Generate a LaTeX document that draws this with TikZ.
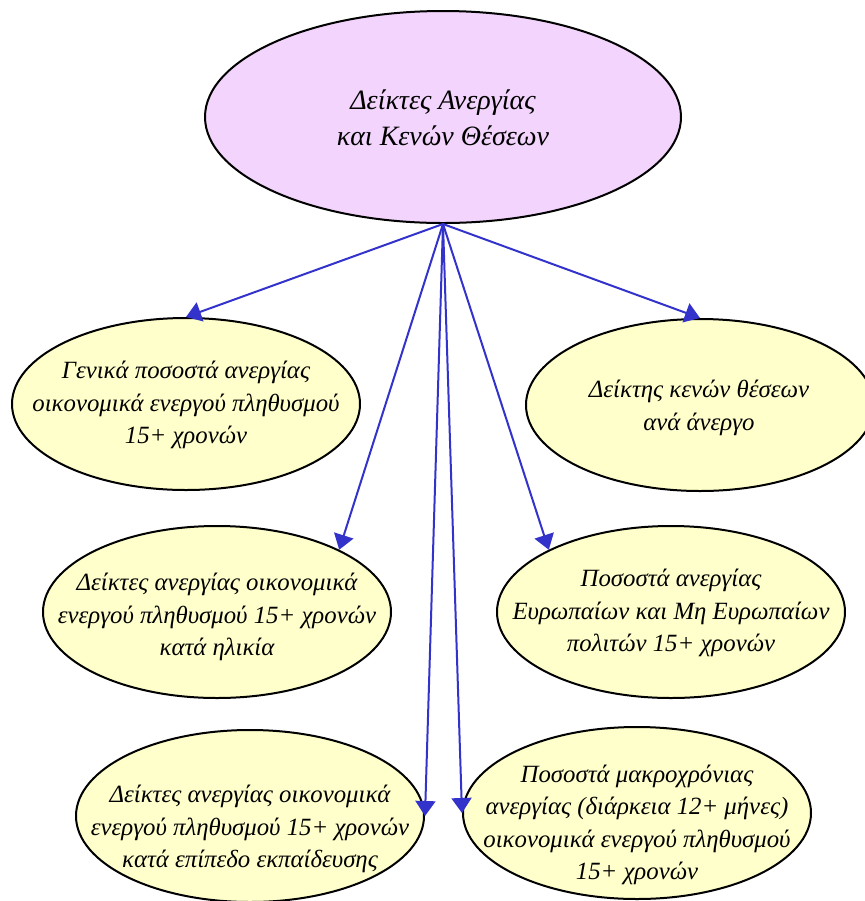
\documentclass[tikz,border=0pt]{standalone}
\usepackage{fontspec}
\setmainfont{Liberation Serif}
\usetikzlibrary{shapes.geometric,arrows.meta}
\definecolor{rootfill}{RGB}{243,212,252}
\definecolor{leaffill}{RGB}{255,255,204}
\definecolor{linkblue}{RGB}{51,51,204}

\begin{document}
\begin{tikzpicture}[x=0.5pt, y=-0.5pt, font=\fontsize{12.4}{16.2}\selectfont\itshape, line join=round,
	root/.style={ellipse, draw, line width=1pt, fill=rootfill, minimum width=238pt, minimum height=106pt, inner sep=0pt},
	leaf/.style={ellipse, draw, line width=1pt, fill=leaffill, minimum width=174pt, minimum height=86pt, inner sep=0pt},
	txt/.style={align=center, inner sep=0pt},
	link/.style={draw=linkblue, line width=1pt, -{Triangle[length=7.5pt,width=10pt]}}]
	\useasboundingbox (0,0) rectangle (865,901);
	% ellipses
	\node[root] (root) at (443,117) {};
	\node[leaf] (gen) at (186,404) {};
	\node[leaf] (vac) at (700,405) {};
	\node[leaf] (age) at (217,612) {};
	\node[leaf] (cit) at (671,612) {};
	\node[leaf] (edu) at (250,816) {};
	\node[leaf] (ltu) at (637,813) {};
	% texts
	\node[txt, font=\fontsize{14}{17}\selectfont\itshape] (t0) at (443,118) {Δείκτες Ανεργίας\\[1pt]και Κενών Θέσεων};
	\node[txt] (t1) at (186,405) {Γενικά ποσοστά ανεργίας\\οικονομικά ενεργού πληθυσμού\\15+ χρονών};
	\node[txt] (t2) at (699,408) {Δείκτης κενών θέσεων\\ανά άνεργο};
	\node[txt] (t3) at (217,617) {Δείκτες ανεργίας οικονομικά\\ενεργού πληθυσμού 15+ χρονών\\κατά ηλικία};
	\node[txt] (t4) at (671,613) {Ποσοστά ανεργίας\\Ευρωπαίων και Μη Ευρωπαίων\\πολιτών 15+ χρονών};
	\node[txt] (t5) at (250,829) {Δείκτες ανεργίας οικονομικά\\ενεργού πληθυσμού 15+ χρονών\\κατά επίπεδο εκπαίδευσης};
	\node[txt] (t6) at (637,825) {Ποσοστά μακροχρόνιας\\ανεργίας (διάρκεια 12+ μήνες)\\οικονομικά ενεργού πληθυσμού\\15+ χρονών};
	% links
	\draw[link] (root.south) -- (gen.north);
	\draw[link] (root.south) -- (vac.north);
	\draw[link] (root.south) -- (age.27);
	\draw[link] (root.south) -- (cit.153);
	\draw[link] (root.south) -- (edu.east);
	\draw[link] (root.south) -- (ltu.west);
\end{tikzpicture}
\end{document}
